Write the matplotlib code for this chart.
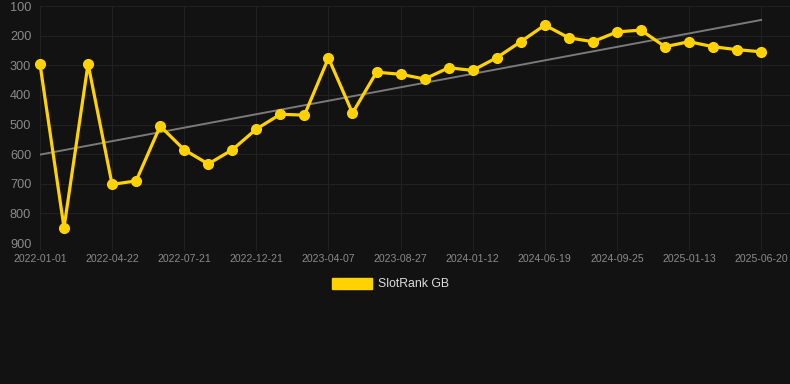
import numpy as np
import matplotlib.pyplot as plt

plt.rcParams['font.family'] = ['Liberation Sans', 'DejaVu Sans']

# rank values, one per sample (lower rank = better, axis is inverted)
rank_gb = [295, 848, 295, 702, 690, 505, 585, 633, 585, 515,
           465, 468, 275, 461, 323, 330, 346, 308, 317, 274,
           220, 164, 207, 220, 187, 181, 237, 220, 237, 247, 254]
tick_labels = ['2022-01-01', '2022-04-22', '2022-07-21', '2022-12-21',
               '2023-04-07', '2023-08-27', '2024-01-12', '2024-06-19',
               '2024-09-25', '2025-01-13', '2025-06-20']
y_ticks = [100, 200, 300, 400, 500, 600, 700, 800, 900]

bg = '#121212'
gold = '#FFD200'
grid_c = '#212121'

x = np.arange(len(rank_gb))

fig = plt.figure(figsize=(7.9, 3.84), dpi=100, facecolor=bg)
ax = fig.add_axes([0.0506, 0.367, 0.9494, 0.617])
ax.set_facecolor(bg)

# trend line (least squares fit)
k, b = np.polyfit(x, rank_gb, 1)
ax.plot(x, k * x + b, color='#7a7a7a', lw=1.4, zorder=2)

ax.plot(x, rank_gb, color=gold, lw=2.3, marker='o', markersize=7,
        solid_joinstyle='miter', label='SlotRank GB', zorder=3, clip_on=False)

ax.set_ylim(900, 100)
ax.set_xlim(0, 31.2)
ax.set_yticks(y_ticks)
ax.set_xticks(x[::3])
ax.set_xticklabels(tick_labels)

ax.grid(True, color=grid_c, lw=0.8)
for s in ax.spines.values():
    s.set_visible(False)
ax.tick_params(axis='y', colors='#8a8a8a', labelsize=9.2, length=0, pad=0)
for lbl in ax.get_yticklabels():
    lbl.set_horizontalalignment('left')
    lbl.set_x(-0.04)
ax.tick_params(axis='x', colors=grid_c, labelcolor='#8a8a8a', labelsize=7.6, length=5, pad=3)

leg = fig.legend(handles=[plt.Rectangle((0, 0), 1, 1, color=gold)], labels=['SlotRank GB'],
                 loc='center', bbox_to_anchor=(0.4945, 0.26), frameon=False,
                 fontsize=8.8, labelcolor='#dddddd', handlelength=3.3, handleheight=1.0,
                 handletextpad=0.5)

fig.savefig('out.png', dpi=100, facecolor=bg)
